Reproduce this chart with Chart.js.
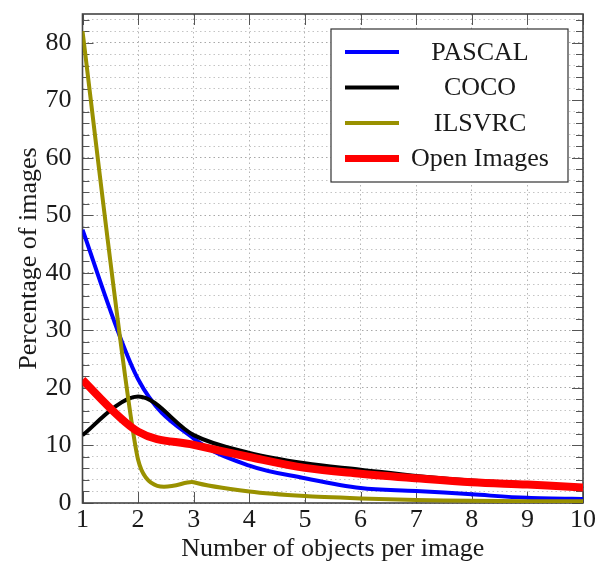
<!DOCTYPE html>
<html>
<head>
<meta charset="utf-8">
<script src="https://cdn.jsdelivr.net/npm/chart.js@4.4.0/dist/chart.umd.min.js"></script>
<style>
  html, body { margin: 0; padding: 0; background: #fff; }
  #wrap { width: 597px; height: 563px; position: relative; }
</style>
</head>
<body>
<div id="wrap"><canvas id="objChart"></canvas></div>
<script>
// values, one entry per object count
const objectCounts = [1, 2, 3, 4, 5, 6, 7, 8, 9, 10];
const pascal     = [47.5, 21.5, 11.2, 6.5, 4.3, 2.6, 2.1, 1.5, 0.9, 0.7];
const coco       = [11.8, 18.5, 11.8, 8.7, 6.9, 5.8, 4.7, 3.9, 3.4, 2.9];
const ilsvrc     = [82.0, 7.5, 3.6, 2.0, 1.2, 0.8, 0.5, 0.4, 0.3, 0.3];
const openImages = [21.4, 12.4, 10.1, 8.0, 6.1, 5.1, 4.3, 3.6, 3.2, 2.7];
const seriesNames = ['PASCAL', 'COCO', 'ILSVRC', 'Open Images'];

const serif = '"Liberation Serif", "Times New Roman", serif';
const textColor = '#1a1a1a';

const toPoints = (vals) => objectCounts.map((n, i) => ({ x: n, y: vals[i] }));

// tikz-like "smooth": control points not weighted by segment length
const uniformSpline = {
  id: 'uniformSpline',
  beforeDatasetsDraw(chart) {
    chart.getSortedVisibleDatasetMetas().forEach(meta => {
      const k = chart.data.datasets[meta.index].smooth || 0.15;
      const line = meta.dataset;
      const pts = meta.data;
      line.updateControlPoints(chart.chartArea, 'x');
      pts.forEach((p, i) => {
        const prev = pts[i - 1] || p;
        const next = pts[i + 1] || p;
        const dx = next.x - prev.x, dy = next.y - prev.y;
        p.cp1x = p.x - k * dx; p.cp1y = p.y - k * dy;
        p.cp2x = p.x + k * dx; p.cp2y = p.y + k * dy;
      });
      delete line._path;
    });
  }
};

// frame + inward ticks, pgfplots style
const axisFrame = {
  id: 'axisFrame',
  beforeDatasetsDraw(chart) {
    const { ctx, chartArea: a, scales } = chart;
    ctx.save();
    ctx.strokeStyle = '#555';
    ctx.lineWidth = 1;
    ctx.beginPath();
    scales.y.ticks.forEach(t => {
      const y = Math.round(scales.y.getPixelForValue(t.value)) + 0.5;
      const len = t.value % 10 === 0 ? 11 : 7;
      ctx.moveTo(a.left, y); ctx.lineTo(a.left + len, y);
      ctx.moveTo(a.right, y); ctx.lineTo(a.right - len, y);
    });
    scales.x.ticks.forEach(t => {
      const x = Math.round(scales.x.getPixelForValue(t.value)) + 0.5;
      ctx.moveTo(x, a.bottom); ctx.lineTo(x, a.bottom - 11);
      ctx.moveTo(x, a.top); ctx.lineTo(x, a.top + 11);
    });
    ctx.stroke();
    ctx.lineWidth = 1.6;
    ctx.strokeStyle = '#444';
    ctx.strokeRect(a.left, a.top, a.right - a.left, a.bottom - a.top);
    ctx.restore();
  }
};

// boxed legend in the upper right of the plot
const boxLegend = {
  id: 'boxLegend',
  afterDatasetsDraw(chart) {
    const { ctx, chartArea: a } = chart;
    const w = 237, h = 153;
    const left = a.right - 15 - w, top = a.top + 15;
    ctx.save();
    ctx.fillStyle = '#fff';
    ctx.fillRect(left, top, w, h);
    ctx.strokeStyle = '#333';
    ctx.lineWidth = 1.2;
    ctx.strokeRect(left, top, w, h);
    ctx.font = '26px ' + serif;
    ctx.textAlign = 'center';
    ctx.textBaseline = 'middle';
    chart.data.datasets.forEach((ds, i) => {
      const y = top + 23 + i * 35.5;
      ctx.strokeStyle = ds.borderColor;
      ctx.lineWidth = ds.label === 'Open Images' ? 7 : 4;
      ctx.beginPath();
      ctx.moveTo(left + 14, y);
      ctx.lineTo(left + 68, y);
      ctx.stroke();
      ctx.fillStyle = textColor;
      ctx.fillText(ds.label, left + 149, y + 1);
    });
    ctx.restore();
  }
};

new Chart(document.getElementById('objChart'), {
  type: 'line',
  data: {
    datasets: [
      { label: seriesNames[0], data: toPoints(pascal), borderColor: '#0000ff', borderWidth: 4, order: 3, smooth: 0.17 },
      { label: seriesNames[1], data: toPoints(coco), borderColor: '#000000', borderWidth: 4, order: 2, smooth: 0.17 },
      { label: seriesNames[2], data: toPoints(ilsvrc), borderColor: '#999100', borderWidth: 4, order: 1, smooth: 0.1 },
      { label: seriesNames[3], data: toPoints(openImages), borderColor: '#ff0000', borderWidth: 8, order: 0, smooth: 0.17 }
    ]
  },
  options: {
    responsive: true,
    maintainAspectRatio: false,
    animation: false,
    layout: { padding: { top: 14, right: 14, bottom: 0, left: 0 } },
    elements: {
      point: { radius: 0 },
      line: { tension: 0.4, fill: false, borderCapStyle: 'butt', borderJoinStyle: 'round' }
    },
    plugins: {
      legend: { display: false },
      tooltip: { enabled: false }
    },
    scales: {
      x: {
        type: 'linear',
        min: 1,
        max: 10,
        afterFit: (s) => { s.height = 60; s.paddingLeft = 0; s.paddingRight = 0; },
        ticks: {
          stepSize: 1,
          padding: 4,
          maxRotation: 0,
          color: textColor,
          font: { family: serif, size: 26, lineHeight: 1 }
        },
        grid: { color: '#b5b5b5', lineWidth: 1, drawTicks: false },
        border: { display: false, dash: [1.5, 3] },
        title: {
          display: true,
          text: 'Number of objects per image',
          color: textColor,
          font: { family: serif, size: 26, lineHeight: 1 },
          padding: { top: 3, bottom: 1 }
        }
      },
      y: {
        min: 0,
        max: 85,
        afterFit: (s) => { s.width = 82.5; s.paddingTop = 0; s.paddingBottom = 0; },
        ticks: {
          stepSize: 2,
          autoSkip: false,
          includeBounds: false,
          padding: 11,
          color: textColor,
          font: { family: serif, size: 26, lineHeight: 1 },
          callback: (v) => (v % 10 === 0 ? v : '')
        },
        grid: {
          color: (c) => (c.tick && c.tick.value % 10 === 0 ? '#a8a8a8' : '#c4c4c4'),
          lineWidth: 1,
          drawTicks: false
        },
        border: { display: false, dash: [1.5, 3] },
        title: {
          display: true,
          text: 'Percentage of images',
          color: textColor,
          font: { family: serif, size: 26, lineHeight: 1 },
          padding: { top: 16, bottom: 3 }
        }
      }
    }
  },
  plugins: [uniformSpline, axisFrame, boxLegend]
});
</script>
</body>
</html>
